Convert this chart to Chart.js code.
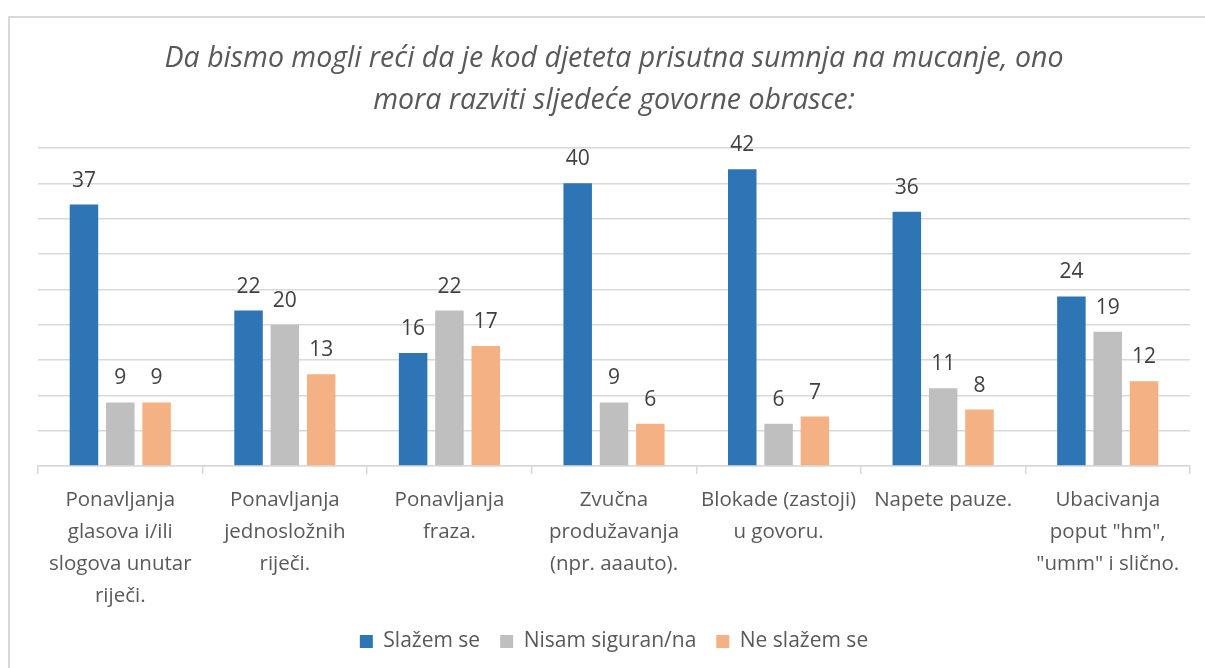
<!DOCTYPE html>
<html>
<head>
<meta charset="utf-8">
<script src="https://cdn.jsdelivr.net/npm/chart.js@4"></script>
<style>
  html, body { margin: 0; padding: 0; background: #fff; }
  #wrap { position: relative; width: 1205px; height: 668px; overflow: hidden; }
  #frame { position: absolute; left: 8px; top: 16px; width: 1300px; height: 800px; border: 2px solid #d9d9d9; box-sizing: border-box; }
  canvas { position: absolute; left: 0; top: 0; }
</style>
</head>
<body>
<div id="wrap">
  <div id="frame"></div>
  <canvas id="c" width="1205" height="668"></canvas>
</div>
<script>
const titleLines = ['Da bismo mogli reći da je kod djeteta prisutna sumnja na mucanje, ono', 'mora razviti sljedeće govorne obrasce:'];
const categories = [
  ['Ponavljanja', 'glasova i/ili', 'slogova unutar', 'riječi.'],
  ['Ponavljanja', 'jednosložnih', 'riječi.'],
  ['Ponavljanja', 'fraza.'],
  ['Zvučna', 'produžavanja', '(npr. aaauto).'],
  ['Blokade (zastoji)', 'u govoru.'],
  ['Napete pauze.'],
  ['Ubacivanja', 'poput "hm",', '"umm" i slično.']
];
const seriesNames = ['Slažem se', 'Nisam siguran/na', 'Ne slažem se'];
const slazemSe = [37, 22, 16, 40, 42, 36, 24];
const nisamSiguran = [9, 20, 22, 9, 6, 11, 19];
const neSlazemSe = [9, 13, 17, 6, 7, 8, 12];
const seriesColors = ['#2E75B6', '#BFBFBF', '#F4B183'];

const FONT = '"Open Sans", Lato, sans-serif';

const dataLabels = {
  id: 'dataLabels',
  afterDatasetsDraw(chart) {
    const ctx = chart.ctx;
    ctx.save();
    ctx.font = '21px ' + FONT;
    ctx.fillStyle = '#404040';
    ctx.textAlign = 'center';
    ctx.textBaseline = 'alphabetic';
    chart.data.datasets.forEach((ds, i) => {
      chart.getDatasetMeta(i).data.forEach((bar, j) => {
        ctx.fillText(String(ds.data[j]), bar.x, bar.y - 18);
      });
    });
    ctx.restore();
  }
};

const datasets = [slazemSe, nisamSiguran, neSlazemSe].map((d, i) => ({
  label: seriesNames[i],
  data: d,
  backgroundColor: seriesColors[i],
  borderWidth: 0,
  categoryPercentage: 0.662,
  barPercentage: 0.785
}));

new Chart(document.getElementById('c'), {
  type: 'bar',
  data: { labels: categories, datasets },
  plugins: [dataLabels],
  options: {
    responsive: false,
    animation: false,
    devicePixelRatio: 1,
    layout: { padding: { left: 38, right: 15, top: 0, bottom: 6 } },
    plugins: {
      title: {
        display: true,
        text: titleLines,
        color: '#595959',
        font: { family: FONT, size: 28.5, style: 'italic', weight: 400, lineHeight: 1.474 },
        padding: { top: 38, bottom: 26 }
      },
      legend: {
        position: 'bottom',
        labels: {
          color: '#595959',
          font: { family: FONT, size: 21 },
          boxWidth: 13,
          boxHeight: 13,
          padding: 20
        }
      },
      tooltip: { enabled: false }
    },
    scales: {
      x: {
        afterFit(scale) { scale.height -= 11; },
        grid: { display: true, drawOnChartArea: false, drawTicks: true, tickLength: 8, color: '#d9d9d9', lineWidth: 1.5, offset: true },
        border: { display: true, color: '#d9d9d9', width: 1.5 },
        ticks: { color: '#595959', font: { family: FONT, size: 20.5, lineHeight: 1.56 }, padding: 10, maxRotation: 0, autoSkip: false }
      },
      y: {
        min: 0, max: 45,
        ticks: { display: false, stepSize: 5 },
        grid: { color: '#d9d9d9', lineWidth: 1.5, drawTicks: false },
        border: { display: false }
      }
    }
  }
});
</script>
</body>
</html>
